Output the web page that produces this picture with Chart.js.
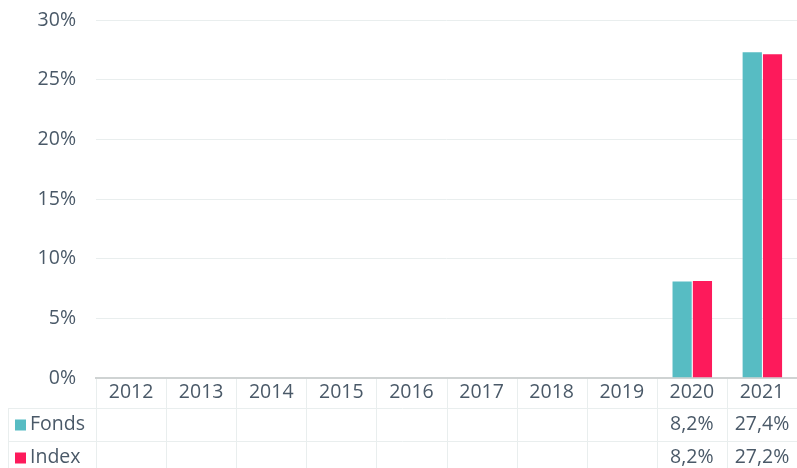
<!DOCTYPE html>
<html>
<head>
<meta charset="utf-8">
<script src="https://cdn.jsdelivr.net/npm/chart.js@4"></script>
<style>
  html, body { margin: 0; padding: 0; background: #fff; }
  #wrap { width: 797px; height: 468px; position: relative; }
</style>
</head>
<body>
<div id="wrap"><canvas id="chart"></canvas></div>
<script>
// data
const years = ['2012', '2013', '2014', '2015', '2016', '2017', '2018', '2019', '2020', '2021'];
const fonds = [null, null, null, null, null, null, null, null, 8.16, 27.38];
const indexVals = [null, null, null, null, null, null, null, null, 8.22, 27.22];
const yTicks = [0, 5, 10, 15, 20, 25, 30];

const TEXT = '#4a5968';
const LINE = '#e9eeee';
const FONT = "'Open Sans', sans-serif";
const FSIZE = 19.5;

function fmt(v) {
    return v == null ? '' : v.toFixed(1).replace('.', ',') + '%';
}

// draws the data table under the x axis
const tablePlugin = {
    id: 'dataTable',
    afterDraw(chart) {
        const ctx = chart.ctx;
        const x = chart.scales.x;
        const area = chart.chartArea;
        const n = years.length;
        const colW = (area.right - area.left) / n;
        const top = area.bottom;
        const rowLabel = top + 30;
        const rowH = 33;
        const rows = [
            { name: 'Fonds', color: chart.data.datasets[0].backgroundColor, vals: fonds },
            { name: 'Index', color: chart.data.datasets[1].backgroundColor, vals: indexVals }
        ];
        ctx.save();
        ctx.strokeStyle = LINE;
        ctx.lineWidth = 1;
        // horizontal lines
        for (let r = 0; r < rows.length; r++) {
            const y = Math.round(rowLabel + r * rowH) + 0.5;
            ctx.beginPath();
            ctx.moveTo(8, y);
            ctx.lineTo(area.right, y);
            ctx.stroke();
        }
        // vertical lines
        ctx.beginPath();
        ctx.moveTo(8.5, rowLabel);
        ctx.lineTo(8.5, chart.height);
        ctx.stroke();
        for (let i = 0; i < n; i++) {
            const xx = Math.round(x.getPixelForTick(i) - colW / 2) + 0.5;
            ctx.beginPath();
            ctx.moveTo(xx, top + 1);
            ctx.lineTo(xx, chart.height);
            ctx.stroke();
        }
        // row labels and values
        ctx.font = FSIZE + 'px ' + FONT;
        ctx.textBaseline = 'middle';
        rows.forEach((row, r) => {
            const cy = rowLabel + r * rowH + rowH / 2;
            ctx.fillStyle = row.color;
            ctx.fillRect(15, cy - 5, 11, 11);
            ctx.fillStyle = TEXT;
            ctx.textAlign = 'left';
            ctx.fillText(row.name, 30, cy);
            ctx.textAlign = 'center';
            row.vals.forEach((v, i) => {
                if (v != null) ctx.fillText(fmt(v), x.getPixelForTick(i), cy);
            });
        });
        ctx.restore();
    }
};

new Chart(document.getElementById('chart'), {
    type: 'bar',
    data: {
        labels: years,
        datasets: [{
            label: 'Fonds',
            data: fonds,
            backgroundColor: '#57bcc3',
            borderColor: 'rgba(255,255,255,0.35)',
            borderWidth: { top: 1, left: 1, right: 0, bottom: 0 },
            barPercentage: 1,
            categoryPercentage: 0.58
        }, {
            label: 'Index',
            data: indexVals,
            backgroundColor: '#fd1a5b',
            borderColor: 'rgba(255,255,255,0.35)',
            borderWidth: { top: 1, left: 1, right: 0, bottom: 0 },
            barPercentage: 1,
            categoryPercentage: 0.58
        }]
    },
    options: {
        responsive: true,
        maintainAspectRatio: false,
        animation: false,
        layout: { padding: { top: 20, right: 0, bottom: 60, left: 0 } },
        plugins: {
            legend: { display: false },
            tooltip: { enabled: false }
        },
        scales: {
            x: {
                grid: { display: false, drawTicks: false, tickLength: 0 },
                border: { display: true, color: '#cfd3d3', width: 2 },
                ticks: {
                    color: TEXT,
                    padding: 3,
                    maxRotation: 0,
                    font: { family: FONT, size: FSIZE }
                },
                afterFit(scale) { scale.height = 30; }
            },
            y: {
                min: 0,
                max: 30,
                afterBuildTicks(scale) { scale.ticks = yTicks.map(v => ({ value: v })); },
                grid: { color: LINE, drawTicks: false },
                border: { display: false },
                ticks: {
                    color: TEXT,
                    padding: 20,
                    font: { family: FONT, size: FSIZE },
                    callback: v => v + '%'
                },
                afterFit(scale) {
                    scale.width = 96;
                    scale.paddingTop = 0;
                    scale.paddingBottom = 0;
                }
            }
        }
    },
    plugins: [tablePlugin]
});
</script>
</body>
</html>
